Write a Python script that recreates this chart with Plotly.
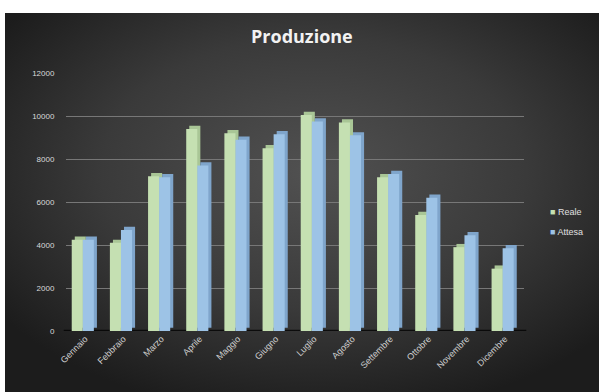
import base64
import plotly.graph_objects as go

months = ["Gennaio", "Febbraio", "Marzo", "Aprile", "Maggio", "Giugno",
          "Luglio", "Agosto", "Settembre", "Ottobre", "Novembre", "Dicembre"]
reale = [4250, 4100, 7200, 9400, 9200, 8500, 10050, 9700, 7150, 5400, 3900, 2900]
attesa = [4250, 4700, 7150, 7700, 8900, 9150, 9750, 9100, 7300, 6200, 4450, 3850]
series_names = ["Reale", "Attesa"]
yticks = [0, 2000, 4000, 6000, 8000, 10000, 12000]

W, H = 599, 392
ML, MR, MT, MB = 66, 75, 73, 61
PW, PH = W - ML - MR, H - MT - MB

# radial gradient background as svg data uri
svg = ('<svg xmlns="http://www.w3.org/2000/svg" width="594" height="379" preserveAspectRatio="none">'
       '<defs><radialGradient id="g" cx="52%" cy="42%" r="65%">'
       '<stop offset="0" stop-color="#515151"/><stop offset="0.55" stop-color="#3a3a3a"/>'
       '<stop offset="1" stop-color="#1c1c1c"/></radialGradient></defs>'
       '<rect width="100%" height="100%" fill="url(#g)"/></svg>')
src = "data:image/svg+xml;base64," + base64.b64encode(svg.encode()).decode()

px_x0, px_y0 = 5, 13
img_x = (px_x0 - ML) / PW
img_y = (H - MB - px_y0) / PH
img_sx = (W - px_x0) / PW
img_sy = (H - px_y0) / PH

fig = go.Figure()

front_w = 0.29
depth_x = 0.08
depth_y = 150
styles = [
    dict(front="#c5e0b2", side="#a9c696", off=-0.35),
    dict(front="#9dc3e6", side="#7fa5cb", off=-0.06),
]
for name, vals, st in zip(series_names, [reale, attesa], styles):
    fig.add_trace(go.Bar(
        x=months, y=vals, base=depth_y, width=front_w, offset=st["off"] + depth_x,
        marker=dict(color=st["side"], line=dict(width=0)), showlegend=False,
        hoverinfo="skip"))
    fig.add_trace(go.Bar(
        x=months, y=vals, width=front_w, offset=st["off"], name=name,
        marker=dict(color=st["front"], line=dict(width=0)), showlegend=False))

# legend drawn as text annotations (compact Excel-style legend)
legend_ann = []
for i, (name, st) in enumerate(zip(series_names, styles)):
    legend_ann.append(dict(
        xref="paper", yref="paper", x=(548 - ML) / PW, y=(H - MB - (212 + 20 * i)) / PH,
        xanchor="left", yanchor="middle", showarrow=False,
        text=f"<span style='color:{st['front']}'>■</span> {name}",
        font=dict(family="Liberation Sans", size=9, color="#e0e0e0")))

fig.update_layout(
    width=W, height=H,
    margin=dict(l=ML, r=MR, t=MT, b=MB, autoexpand=False),
    paper_bgcolor="white",
    plot_bgcolor="rgba(0,0,0,0)",
    barmode="overlay",
    showlegend=False,
    title=dict(text="<b>Produzione</b>", x=0.504, xanchor="center",
               y=1 - 37 / H, yanchor="middle",
               font=dict(family="Open Sans", size=18, color="#f2f2f2")),
    font=dict(family="Liberation Sans", color="#d9d9d9", size=8),
    annotations=legend_ann,
    images=[dict(source=src, xref="paper", yref="paper", x=img_x, y=img_y,
                 sizex=img_sx, sizey=img_sy, sizing="stretch",
                 xanchor="left", yanchor="top", layer="below")],
    shapes=[dict(type="rect", xref="paper", yref="y", x0=-0.005, x1=1.005,
                 y0=-180, y1=60, fillcolor="rgba(0,0,0,0.75)", line=dict(width=0),
                 layer="below")],
)
fig.update_yaxes(range=[0, 12000], tickvals=yticks, tickformat="d", showgrid=True,
                 gridcolor="#777777", gridwidth=1, zeroline=False, showline=False,
                 ticks="outside", ticklen=9, tickcolor="rgba(0,0,0,0)",
                 tickfont=dict(size=8, color="#d9d9d9"))
fig.update_xaxes(range=[-0.5, 11.5], tickangle=-45, showgrid=False, showline=False,
                 tickfont=dict(size=9, color="#d0d0d0"))

fig.write_html("out.html")
